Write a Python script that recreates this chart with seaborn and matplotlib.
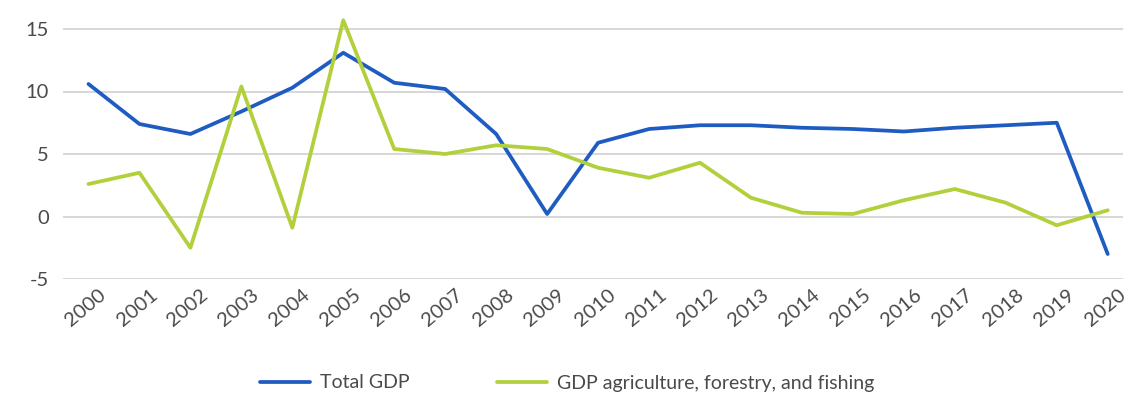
import matplotlib
matplotlib.use("Agg")
import matplotlib.pyplot as plt
import matplotlib.transforms as mtransforms
import seaborn as sns
import pandas as pd

years = [str(y) for y in range(2000, 2021)]
total_gdp = [10.6, 7.4, 6.6, 8.4, 10.3, 13.1, 10.7, 10.2, 6.6, 0.2, 5.9,
             7.0, 7.3, 7.3, 7.1, 7.0, 6.8, 7.1, 7.3, 7.5, -3.0]
agri_gdp = [2.6, 3.5, -2.5, 10.4, -0.9, 15.7, 5.4, 5.0, 5.7, 5.4, 3.9,
            3.1, 4.3, 1.5, 0.3, 0.2, 1.3, 2.2, 1.1, -0.7, 0.5]
series_names = ["Total GDP", "GDP agriculture, forestry, and fishing"]
y_ticks = [-5, 0, 5, 10, 15]

df = pd.DataFrame({"year": years, series_names[0]: total_gdp, series_names[1]: agri_gdp})
long = df.melt(id_vars="year", var_name="series", value_name="growth")
long["pos"] = long["year"].map({y: i for i, y in enumerate(years)})

sns.set_theme(style="white")
plt.rcParams["font.family"] = ["Lato", "DejaVu Sans"]

fig = plt.figure(figsize=(11.35, 3.98), dpi=100)
ax = fig.add_axes([63 / 1135, (398 - 279) / 398, (1123 - 63) / 1135, (279 - 4) / 398])

palette = {series_names[0]: "#1f5cc2", series_names[1]: "#b2cf3c"}
sns.lineplot(data=long, x="pos", y="growth", hue="series", palette=palette,
             linewidth=2.7, ax=ax, legend=False, sort=False)

ax.set_xlim(-0.5, 20.3)
ax.set_ylim(-5, 17)
ax.set_yticks(y_ticks)
ax.set_yticklabels([str(t) for t in y_ticks])
ax.set_xticks(range(len(years)))
ax.set_xticklabels(years, rotation=40, ha="right", rotation_mode="anchor")
ax.yaxis.grid(True, color="#d4d4d4", linewidth=1.3)
ax.set_axisbelow(True)
for s in ax.spines.values():
    s.set_visible(False)
ax.tick_params(axis="both", length=0, colors="#4a4a4a", labelsize=14.5)
ax.tick_params(axis="x", pad=5)
ax.tick_params(axis="y", pad=10)
ax.set_xlabel("")
ax.set_ylabel("")

# nudge the rotated year labels slightly to the right
shift = mtransforms.ScaledTranslation(10 / 100, 0, fig.dpi_scale_trans)
for lbl in ax.get_xticklabels():
    lbl.set_transform(lbl.get_transform() + shift)

handles = [plt.Line2D([], [], color=palette[n], linewidth=2.7) for n in series_names]
fig.legend(handles, series_names, loc="center", bbox_to_anchor=(567 / 1135, 1 - 383 / 398),
           ncol=2, frameon=False, fontsize=14, handlelength=2.6, handletextpad=0.5,
           columnspacing=4.5, labelcolor="#4a4a4a")

fig.savefig("out.png", dpi=100)
